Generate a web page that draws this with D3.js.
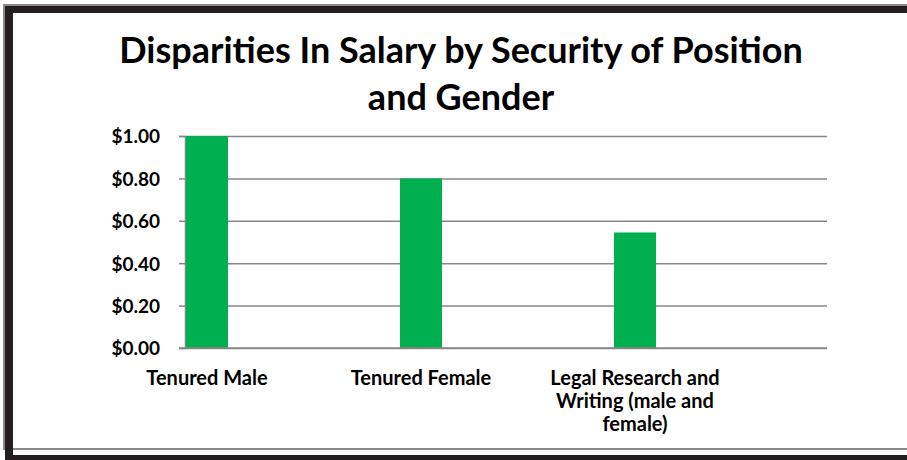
<!DOCTYPE html>
<html>
<head>
<meta charset="utf-8">
<script src="https://cdn.jsdelivr.net/npm/d3@7"></script>
<style>
  body { margin: 0; background: #fff; }
  svg { display: block; }
  text { font-family: Lato, "Open Sans", sans-serif; font-weight: bold; fill: #000; }
</style>
</head>
<body>
<div class="plot"></div>
<script>
// data
var categories = ["Tenured Male", "Tenured Female", "Legal Research and Writing (male and female)"];
var catLines = [["Tenured Male"], ["Tenured Female"], ["Legal Research and", "Writing (male and", "female)"]];
var values = [1.00, 0.80, 0.545];
var yTicks = [0, 0.2, 0.4, 0.6, 0.8, 1.0];
var titleLines = ["Disparities In Salary by Security of Position", "and Gender"];

var W = 907, H = 460;
var svg = d3.select(".plot").append("svg")
    .attr("width", W)
    .attr("height", H);

// frame (shadowed border)
svg.append("rect").attr("x", 3).attr("y", 4).attr("width", W - 3).attr("height", 2).attr("fill", "#8a8a8a");
svg.append("rect").attr("x", 3).attr("y", 4).attr("width", 2).attr("height", 446).attr("fill", "#8a8a8a");
svg.append("rect").attr("x", 5).attr("y", 6).attr("width", W - 5).attr("height", 7).attr("fill", "#231f20");
svg.append("rect").attr("x", 5).attr("y", 6).attr("width", 8).attr("height", H - 6).attr("fill", "#231f20");
svg.append("rect").attr("x", 13).attr("y", 448).attr("width", W - 13).attr("height", 2).attr("fill", "#8a8a8a");
svg.append("rect").attr("x", 5).attr("y", 455).attr("width", W - 5).attr("height", 5).attr("fill", "#231f20");

// title
var title = svg.append("g").attr("class", "title");
title.selectAll("text")
  .data(titleLines)
  .enter().append("text")
    .attr("x", 461)
    .attr("y", function(d, i) { return 63 + i * 47; })
    .attr("text-anchor", "middle")
    .style("font-size", "36px")
    .text(function(d) { return d; });

var margin = {top: 136, left: 185, right: 80, bottom: 112},
    width = W - margin.left - margin.right,
    height = H - margin.top - margin.bottom;

var g = svg.append("g")
    .attr("transform", "translate(" + margin.left + "," + margin.top + ")");

var x = d3.scaleBand()
    .domain(categories)
    .range([0, width])
    .paddingInner(0)
    .paddingOuter(0);

var y = d3.scaleLinear()
    .domain([0, 1])
    .range([height, 0]);

var barW = 42;

// gridlines
g.append("g")
  .attr("class", "grid")
  .call(d3.axisLeft(y)
      .tickValues(yTicks)
      .tickSize(-width)
      .tickFormat(""))
  .call(function(s) {
    s.select(".domain").remove();
    s.selectAll("line").attr("stroke", "#878787").attr("stroke-width", 1.5);
  });

// y axis
g.append("g")
  .attr("class", "axis axis--y")
  .call(d3.axisLeft(y)
      .tickValues(yTicks)
      .tickSize(6)
      .tickPadding(19)
      .tickFormat(function(d) { return "$" + d3.format(".2f")(d); }))
  .call(function(s) {
    s.select(".domain").attr("stroke", "#878787").attr("stroke-width", 1.5);
    s.selectAll("line").attr("stroke", "#878787").attr("stroke-width", 1.5);
    s.selectAll("text")
      .style("font-size", "19px")
      .style("font-family", "Lato, sans-serif")
      .style("font-weight", "bold")
      .attr("dy", "0.36em");
  });

// bars
g.selectAll(".bar")
  .data(values)
  .enter().append("rect")
    .attr("class", "bar")
    .attr("x", function(d, i) { return x(categories[i]) + 1; })
    .attr("y", function(d) { return y(d); })
    .attr("width", barW)
    .attr("height", function(d) { return height - y(d); })
    .attr("fill", "#00b050");

// x axis line
g.append("line")
  .attr("x1", -6).attr("x2", width)
  .attr("y1", y(0)).attr("y2", y(0))
  .attr("stroke", "#878787").attr("stroke-width", 1.5);

// category labels
var lab = g.selectAll(".cat")
  .data(categories)
  .enter().append("text")
    .attr("class", "cat")
    .attr("text-anchor", "middle")
    .attr("transform", function(d) { return "translate(" + (x(d) + 1 + barW / 2) + "," + (height + 37) + ")"; })
    .style("font-size", "20px");

lab.selectAll("tspan")
  .data(function(d, i) { return catLines[i]; })
  .enter().append("tspan")
    .attr("x", 0)
    .attr("y", function(d, i) { return i * 23; })
    .text(function(d) { return d; });
</script>
</body>
</html>
